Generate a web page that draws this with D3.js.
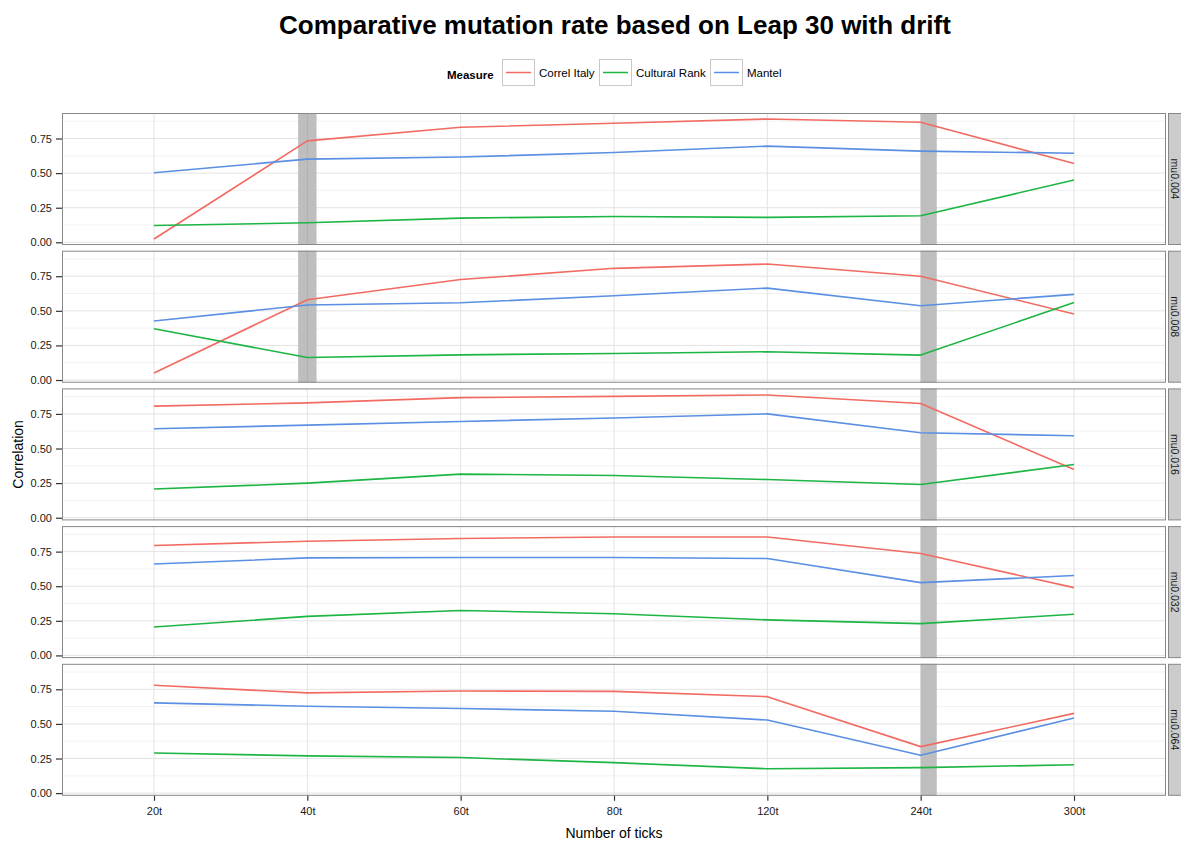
<!DOCTYPE html>
<html>
<head>
<meta charset="utf-8">
<script src="https://cdn.jsdelivr.net/npm/d3@7"></script>
<style>
  html, body { margin: 0; padding: 0; background: #fff; }
  svg { display: block; font-family: "Liberation Sans", Arial, Helvetica, sans-serif; }
</style>
</head>
<body>
<svg id="chart" width="1181" height="841"></svg>
<script>
// Simulation snapshots (x) and mutation-rate facets
const ticks = ["20t", "40t", "60t", "80t", "120t", "240t", "300t"];
const facets = ["mu0.004", "mu0.008", "mu0.016", "mu0.032", "mu0.064"];
const measures = ["Correl Italy", "Cultural Rank", "Mantel"];
const yTicks = [0, 0.25, 0.5, 0.75];

// Correlation per facet, one array per measure (ordered as `ticks`)
const correlItaly = [
  [0.024, 0.733, 0.831, 0.860, 0.891, 0.867, 0.570],
  [0.051, 0.580, 0.726, 0.807, 0.838, 0.750, 0.477],
  [0.806, 0.830, 0.868, 0.877, 0.887, 0.825, 0.348],
  [0.794, 0.825, 0.845, 0.856, 0.856, 0.736, 0.490],
  [0.779, 0.724, 0.738, 0.735, 0.697, 0.336, 0.576]
];
const culturalRank = [
  [0.122, 0.141, 0.175, 0.187, 0.180, 0.192, 0.450],
  [0.371, 0.163, 0.182, 0.192, 0.204, 0.180, 0.560],
  [0.207, 0.250, 0.315, 0.305, 0.276, 0.240, 0.384],
  [0.205, 0.282, 0.325, 0.301, 0.257, 0.230, 0.297],
  [0.290, 0.269, 0.257, 0.220, 0.176, 0.184, 0.205]
];
const mantel = [
  [0.503, 0.601, 0.616, 0.649, 0.695, 0.659, 0.644],
  [0.427, 0.542, 0.558, 0.609, 0.664, 0.537, 0.619],
  [0.643, 0.669, 0.695, 0.721, 0.750, 0.614, 0.592],
  [0.660, 0.705, 0.708, 0.708, 0.700, 0.526, 0.577],
  [0.652, 0.628, 0.611, 0.592, 0.528, 0.273, 0.543]
];

// Highlighted snapshots per facet: [facet index, tick, start offset, end offset] in category steps
const highlights = [
  [0, "40t", -0.06, 0.06], [1, "40t", -0.06, 0.06],
  [0, "240t", 0, 0.105], [1, "240t", 0, 0.105], [2, "240t", 0, 0.105],
  [3, "240t", 0, 0.105], [4, "240t", 0, 0.105]
];

const seriesByMeasure = [correlItaly, culturalRank, mantel];
const colors = d3.scaleOrdinal().domain(measures).range(["#F26B63", "#1DB544", "#5B8FE3"]);

const svg = d3.select("#chart");
const panelLeft = 62, panelRight = 1166;
const panelTop0 = 113, panelH = 132, panelStep = 137.7;
const stripW = 22;

// Shared scales across facets
const x = d3.scalePoint().domain(ticks).range([panelLeft, panelRight]).padding(0.6);
const allVals = seriesByMeasure.flat(2);
const [vmin, vmax] = d3.extent(allVals);
const pad = (vmax - vmin) * 0.05;
const yDomain = [vmin - pad, vmax + pad];

// Title
svg.append("text")
  .attr("x", 615).attr("y", 34)
  .attr("text-anchor", "middle")
  .attr("font-size", 26).attr("font-weight", "bold").attr("fill", "#000")
  .text("Comparative mutation rate based on Leap 30 with drift");

// Legend
const legend = svg.append("g");
legend.append("text").attr("x", 447).attr("y", 79)
  .attr("font-size", 11.5).attr("font-weight", "bold").attr("fill", "#000").text("Measure");
const legendKeys = [502, 599, 710];
measures.forEach((m, i) => {
  const g = legend.append("g").attr("transform", `translate(${legendKeys[i]},59)`);
  g.append("rect").attr("x", 0.5).attr("y", 0.5).attr("width", 32).attr("height", 26)
    .attr("fill", "#fff").attr("stroke", "#c8c8c8");
  g.append("line").attr("x1", 4).attr("x2", 29).attr("y1", 13.5).attr("y2", 13.5)
    .attr("stroke", colors(m)).attr("stroke-width", 1.5);
  g.append("text").attr("x", 37).attr("y", 17.5).attr("font-size", 11.5).attr("fill", "#000").text(m);
});

const line = d3.line();

facets.forEach((f, fi) => {
  const top = panelTop0 + fi * panelStep;
  const y = d3.scaleLinear().domain(yDomain).range([top + panelH, top]);
  const g = svg.append("g");

  // panel background
  g.append("rect").attr("x", panelLeft).attr("y", top)
    .attr("width", panelRight - panelLeft).attr("height", panelH).attr("fill", "#fff");

  // minor grid
  const minor = yTicks.map(t => t + 0.125).filter(t => t < yDomain[1]);
  g.selectAll(".ymin").data(minor).join("line")
    .attr("x1", panelLeft).attr("x2", panelRight)
    .attr("y1", d => y(d)).attr("y2", d => y(d))
    .attr("stroke", "#f2f2f2").attr("stroke-width", 1);
  // major grid
  g.selectAll(".ymaj").data(yTicks).join("line")
    .attr("x1", panelLeft).attr("x2", panelRight)
    .attr("y1", d => y(d)).attr("y2", d => y(d))
    .attr("stroke", "#e3e3e3").attr("stroke-width", 1);
  g.selectAll(".xmaj").data(ticks).join("line")
    .attr("x1", d => x(d)).attr("x2", d => x(d))
    .attr("y1", top).attr("y2", top + panelH)
    .attr("stroke", "#e3e3e3").attr("stroke-width", 1);

  // highlighted snapshots
  highlights.filter(h => h[0] === fi).forEach(h => {
    const x0 = x(h[1]) + h[2] * x.step();
    const x1 = x(h[1]) + h[3] * x.step();
    g.append("rect").attr("x", x0).attr("y", top).attr("width", x1 - x0).attr("height", panelH)
      .attr("fill", "#bebebe");
    if (h[2] < 0) {
      g.append("line").attr("x1", x(h[1])).attr("x2", x(h[1]))
        .attr("y1", top).attr("y2", top + panelH).attr("stroke", "#b0b0b0").attr("stroke-width", 1);
    }
  });

  // series lines
  measures.forEach((m, mi) => {
    const vals = seriesByMeasure[mi][fi];
    g.append("path")
      .attr("d", line(ticks.map((t, ti) => [x(t), y(vals[ti])])))
      .attr("fill", "none").attr("stroke", colors(m)).attr("stroke-width", 1.6)
      .attr("stroke-linejoin", "round");
  });

  // panel border
  g.append("rect").attr("x", panelLeft + 0.5).attr("y", top + 0.5)
    .attr("width", panelRight - panelLeft - 1).attr("height", panelH - 1)
    .attr("fill", "none").attr("stroke", "#888").attr("stroke-width", 1);

  // y axis
  const yAxis = g.append("g").attr("transform", `translate(${panelLeft},0)`)
    .call(d3.axisLeft(y).tickValues(yTicks).tickFormat(d3.format(".2f")).tickSize(6).tickPadding(4));
  yAxis.select(".domain").remove();
  yAxis.selectAll(".tick line").attr("stroke", "#333").attr("stroke-width", 1.2);
  yAxis.selectAll(".tick text").attr("font-size", 11).attr("fill", "#1a1a1a")
    .attr("font-family", "Liberation Sans, Arial, sans-serif");

  // strip on the right
  const sx = panelRight + 2;
  g.append("rect").attr("x", sx + 0.5).attr("y", top + 0.5).attr("width", stripW).attr("height", panelH - 1)
    .attr("fill", "#cccccc").attr("stroke", "#888");
  g.append("text")
    .attr("transform", `translate(${sx + 3},${top + panelH / 2}) rotate(90)`)
    .attr("text-anchor", "middle").attr("font-size", 10.5).attr("fill", "#1a1a1a")
    .text(f);

  // x axis under last panel
  if (fi === facets.length - 1) {
    const xAxis = g.append("g").attr("transform", `translate(0,${top + panelH})`)
      .call(d3.axisBottom(x).tickSize(5).tickPadding(6));
    xAxis.select(".domain").remove();
    xAxis.selectAll(".tick line").attr("stroke", "#333").attr("stroke-width", 1.2);
    xAxis.selectAll(".tick text").attr("font-size", 11).attr("fill", "#1a1a1a")
      .attr("font-family", "Liberation Sans, Arial, sans-serif");
  }
});

// axis titles
svg.append("text").attr("x", 614).attr("y", 838).attr("text-anchor", "middle")
  .attr("font-size", 14).attr("fill", "#000").text("Number of ticks");
svg.append("text")
  .attr("transform", `translate(23,${panelTop0 + (4 * panelStep + panelH) / 2}) rotate(-90)`)
  .attr("text-anchor", "middle").attr("font-size", 14).attr("fill", "#000").text("Correlation");
</script>
</body>
</html>
